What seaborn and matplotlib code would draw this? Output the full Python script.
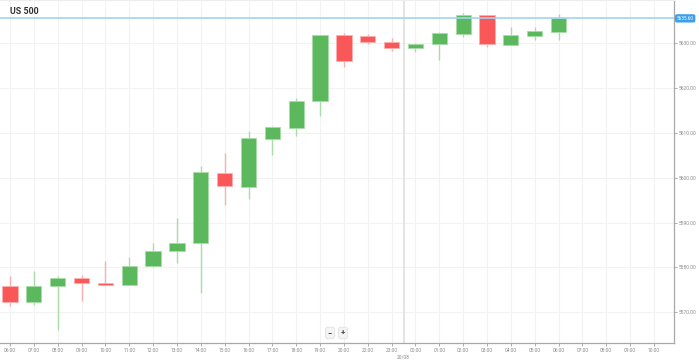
import matplotlib
matplotlib.use("Agg")
import matplotlib.pyplot as plt
import seaborn as sns
import numpy as np

# ---- data ----
time_labels = ["06:00", "07:00", "08:00", "09:00", "10:00", "11:00", "12:00", "13:00",
               "14:00", "15:00", "16:00", "17:00", "18:00", "19:00", "20:00", "22:00",
               "23:00", "00:00", "01:00", "02:00", "03:00", "04:00", "05:00", "06:00",
               "07:00", "08:00", "09:00", "10:00"]
opens = [5575.9, 5572.3, 5575.9, 5577.7, 5576.5, 5576.2, 5580.4, 5583.7, 5585.5, 5601.2,
         5598.0, 5608.7, 5611.2, 5617.2, 5632.0, 5631.7, 5630.4, 5629.0, 5629.8, 5632.1,
         5636.4, 5629.7, 5631.7, 5632.6]
closes = [5572.3, 5575.9, 5577.6, 5576.5, 5576.1, 5580.4, 5583.6, 5585.4, 5601.3, 5598.1,
          5608.8, 5611.3, 5617.2, 5631.8, 5626.0, 5630.3, 5628.9, 5629.8, 5632.3, 5636.4,
          5629.8, 5631.8, 5632.7, 5635.6]
highs = [5578.0, 5579.3, 5578.1, 5578.3, 5581.4, 5582.3, 5585.4, 5591.0, 5602.7, 5605.6,
         5610.5, 5611.6, 5617.8, 5632.0, 5632.3, 5632.1, 5631.3, 5630.1, 5632.5, 5636.7,
         5636.4, 5633.6, 5633.6, 5636.6]
lows = [5571.4, 5571.7, 5566.0, 5572.6, 5576.0, 5576.2, 5580.2, 5580.9, 5574.4, 5593.9,
        5595.2, 5605.2, 5609.4, 5613.8, 5624.8, 5629.9, 5628.4, 5628.0, 5626.3, 5631.4,
        5629.2, 5629.6, 5630.8, 5630.8]
y_ticks = [5570, 5580, 5590, 5600, 5610, 5620, 5630]
current_price = 5635.6
title = "US 500"
date_label = "20/08"

sns.set_theme(style="white")
plt.rcParams["font.family"] = ["Roboto", "DejaVu Sans"]

fig = plt.figure(figsize=(6.99, 3.6), dpi=100)
ax = fig.add_axes([0.0, 17 / 360, 674 / 699, 343 / 360])

GREEN = "#5cb85c"
GREEN_L = "#a9dca9"
RED = "#fa5858"
RED_L = "#fbb0b0"

x = np.arange(len(opens))
o = np.array(opens)
c = np.array(closes)
up = c >= o
body_bottom = np.minimum(o, c)
body_h = np.maximum(np.abs(c - o), 0.3)
colors = [GREEN if u else RED for u in up]
lcolors = [GREEN_L if u else RED_L for u in up]

ax.vlines(x, lows, highs, colors=lcolors, linewidth=1.0, zorder=2)
ax.bar(x, body_h, bottom=body_bottom, width=0.64, color=colors,
       edgecolor=lcolors, linewidth=0.6, zorder=3)

# grid
for xi in range(len(time_labels)):
    ax.axvline(xi, color="#f2f2f2", linewidth=0.8, zorder=0)
for yt in y_ticks:
    ax.axhline(yt, color="#f2f2f2", linewidth=0.8, zorder=0)
ax.axvline(16.5, color="#e2e2e2", linewidth=1.3, zorder=1)

# current price line
ax.axhline(current_price, color="#9fd4f5", linewidth=1.2, zorder=4)
ax.text(1.004, current_price, f"{current_price:.2f}", transform=ax.get_yaxis_transform(),
        ha="left", va="center", fontsize=3.4, color="white", clip_on=False,
        bbox=dict(boxstyle="round,pad=0.35,rounding_size=0.4", fc="#3a9fec", ec="none"))

ax.set_xlim(-0.42, 27.84)
ax.set_ylim(5563.15, 5639.7)

ax.set_xticks(range(len(time_labels)))
ax.set_xticklabels(time_labels)
ax.set_yticks(y_ticks)
ax.set_yticklabels([f"{v:.2f}" for v in y_ticks])
ax.yaxis.tick_right()
ax.tick_params(axis="both", labelsize=3.5, colors="#8a8a8a", length=2, width=0.5,
               pad=1.5, direction="out")
ax.tick_params(axis="y", right=True, left=False)
ax.tick_params(axis="x", bottom=True)

ax.spines["left"].set_visible(False)
ax.spines["top"].set_color("#ededed")
ax.spines["top"].set_linewidth(0.8)
ax.spines["right"].set_color("#a8a8a8")
ax.spines["bottom"].set_color("#a8a8a8")
ax.spines["right"].set_linewidth(0.9)
ax.spines["bottom"].set_linewidth(0.9)

ax.text(16.5, -0.04, date_label, transform=ax.get_xaxis_transform(), ha="center",
        va="center", fontsize=3.5, color="#8a8a8a", clip_on=False)

fig.text(10 / 699, 1 - 12 / 360, title, fontsize=6.4, fontweight="bold", color="#333333",
         ha="left", va="center")

# zoom buttons
for bx, sym in [(330, "\u2212"), (343, "+")]:
    fig.text(bx / 699, 1 - 333 / 360, sym, fontsize=5.5, fontweight="bold",
             color="#444444", ha="center", va="center",
             bbox=dict(boxstyle="round,pad=0.3,rounding_size=0.3", fc="#f4f4f4",
                       ec="#dddddd", lw=0.5))

fig.savefig("out.png", dpi=100)
